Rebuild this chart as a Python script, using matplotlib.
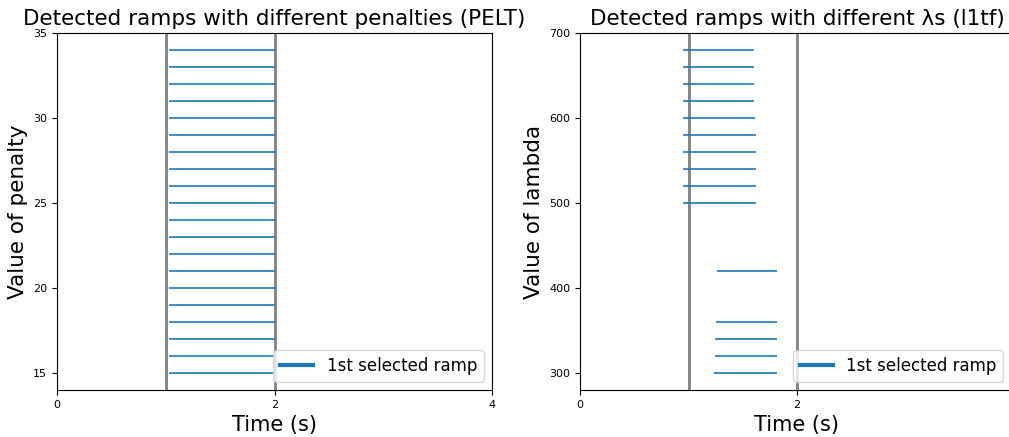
import numpy as np
import matplotlib.pyplot as plt
from matplotlib.lines import Line2D

# PELT: detected ramp per penalty value
penalties = [15, 16, 17, 18, 19, 20, 21, 22, 23, 24, 25, 26, 27, 28, 29, 30, 31, 32, 33, 34]
pelt_start = [1.03] * len(penalties)
pelt_end = [2.0] * len(penalties)

# l1tf: detected ramp per lambda value
lambdas = [300, 320, 340, 360, 420, 500, 520, 540, 560, 580, 600, 620, 640, 660, 680]
l1tf_start = [1.235, 1.241, 1.247, 1.253, 1.263,
              0.952, 0.946, 0.946, 0.946, 0.946, 0.946, 0.946, 0.946, 0.946, 0.946]
l1tf_end = [1.819, 1.819, 1.819, 1.819, 1.819,
            1.619, 1.619, 1.619, 1.619, 1.619, 1.613, 1.607, 1.607, 1.607, 1.607]

# true ramp boundaries
ramp_bounds = [1, 2]

fig = plt.figure(figsize=(10.09, 4.37), dpi=100)
W, H = 1009, 437
ax1 = fig.add_axes([57 / W, 1 - 390 / H, 435 / W, 357 / H])
ax2 = fig.add_axes([580 / W, 1 - 390 / H, 434 / W, 357 / H])

handle = [Line2D([0], [0], color='tab:blue', lw=3, label='1st selected ramp')]

# 左图：PELT
for b in ramp_bounds:
    ax1.axvline(b, color='gray', lw=2)
ax1.hlines(penalties, pelt_start, pelt_end, color='tab:blue', lw=1.2)
ax1.set_xlim(0, 4)
ax1.set_ylim(14, 35)
ax1.set_xticks([0, 2, 4])
ax1.set_yticks([15, 20, 25, 30, 35])
ax1.set_title('Detected ramps with different penalties (PELT)', fontsize=15.5)
ax1.set_xlabel('Time (s)', fontsize=15)
ax1.set_ylabel('Value of penalty', fontsize=15.5)
ax1.tick_params(labelsize=8)
ax1.legend(handles=handle, loc='lower right', fontsize=12)

# 右图：l1tf
for b in ramp_bounds:
    ax2.axvline(b, color='gray', lw=2)
ax2.hlines(lambdas, l1tf_start, l1tf_end, color='tab:blue', lw=1.2)
ax2.set_xlim(0, 4)
ax2.set_ylim(280, 700)
ax2.set_xticks([0, 2])
ax2.set_yticks([300, 400, 500, 600, 700])
ax2.set_title('Detected ramps with different λs (l1tf)', fontsize=15.5)
ax2.set_xlabel('Time (s)', fontsize=15)
ax2.set_ylabel('Value of lambda', fontsize=15.5)
ax2.tick_params(labelsize=8)
ax2.legend(handles=handle, loc='lower right', bbox_to_anchor=(0.995, 0), fontsize=12)

fig.savefig('out.png', dpi=100)
